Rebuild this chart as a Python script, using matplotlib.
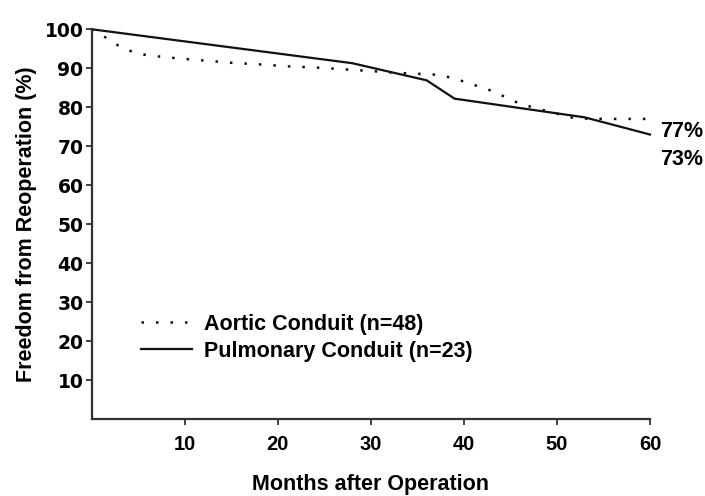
import matplotlib
matplotlib.use("Agg")
import matplotlib.pyplot as plt

plt.rcParams['font.family'] = ['Liberation Sans', 'DejaVu Sans']
plt.rcParams['font.weight'] = 'bold'

# freedom from reoperation (%) vs months after operation
aortic_months = [0, 1.5, 3, 4.5, 6, 9, 12, 15, 18, 21, 24, 28, 33, 37.5, 40, 43, 46, 48, 52, 56, 60]
aortic_free = [100, 97.9, 95.6, 94.1, 93.3, 92.6, 92.0, 91.4, 91.0, 90.5, 90.2, 89.6,
               88.8, 88.3, 86.6, 84.2, 80.9, 79.6, 77.1, 77.0, 77.0]

pulm_months = [0, 28, 36, 39, 53, 60]
pulm_free = [100, 91.3, 86.9, 82.2, 77.4, 73.0]

series_labels = ['Aortic Conduit (n=48)', 'Pulmonary Conduit (n=23)']
x_ticks = [10, 20, 30, 40, 50, 60]
y_ticks = [10, 20, 30, 40, 50, 60, 70, 80, 90, 100]

fig = plt.figure(figsize=(7.05, 4.96), dpi=100)
ax = fig.add_axes([0.130, 0.155, 0.792, 0.786])

ax.plot(aortic_months, aortic_free, color='#111111', lw=1.8,
        linestyle=(0, (1.0, 4.8)), label=series_labels[0], clip_on=False)
ax.plot(pulm_months, pulm_free, color='#111111', lw=1.6,
        linestyle='-', label=series_labels[1], clip_on=False)

# final estimates written next to the curve ends
ax.annotate(f"{aortic_free[-1]:.0f}%", xy=(aortic_months[-1], aortic_free[-1]),
            xytext=(7.5, -9), textcoords='offset points', va='center', ha='left',
            fontsize=15.5, fontweight='bold', annotation_clip=False)
ax.annotate(f"{pulm_free[-1]:.0f}%", xy=(pulm_months[-1], pulm_free[-1]),
            xytext=(7.5, -18), textcoords='offset points', va='center', ha='left',
            fontsize=15.5, fontweight='bold', annotation_clip=False)

ax.set_xlim(0, 60)
ax.set_ylim(0, 100)
ax.set_xticks(x_ticks)
ax.set_yticks(y_ticks)
ax.tick_params(direction='out', length=4.3, width=1.3, color='#333333')
ax.tick_params(axis='x', labelsize=14.5, pad=7)
ax.tick_params(axis='y', labelsize=13.5, pad=1.5)
for lbl in ax.get_xticklabels():
    lbl.set_fontweight('bold')
for lbl in ax.get_yticklabels():
    lbl.set_fontweight('bold')
    lbl.set_family('DejaVu Sans')

for side in ['top', 'right']:
    ax.spines[side].set_visible(False)
for side in ['left', 'bottom']:
    ax.spines[side].set_linewidth(1.6)
    ax.spines[side].set_color('#333333')

ax.set_xlabel('Months after Operation', fontsize=15.5, fontweight='bold', va='baseline')
ax.xaxis.set_label_coords(0.5, -0.182)
ax.set_ylabel('Freedom from Reoperation (%)', fontsize=15.5, fontweight='bold', va='center')
ax.yaxis.set_label_coords(-0.117, 0.5)

leg = ax.legend(loc='upper left', bbox_to_anchor=(0.088, 0.27), frameon=False,
                fontsize=15.5, handlelength=2.4, handletextpad=0.55, labelspacing=0.27,
                borderpad=0, borderaxespad=0)
for t in leg.get_texts():
    t.set_fontweight('bold')

fig.savefig('out.png', dpi=100)
